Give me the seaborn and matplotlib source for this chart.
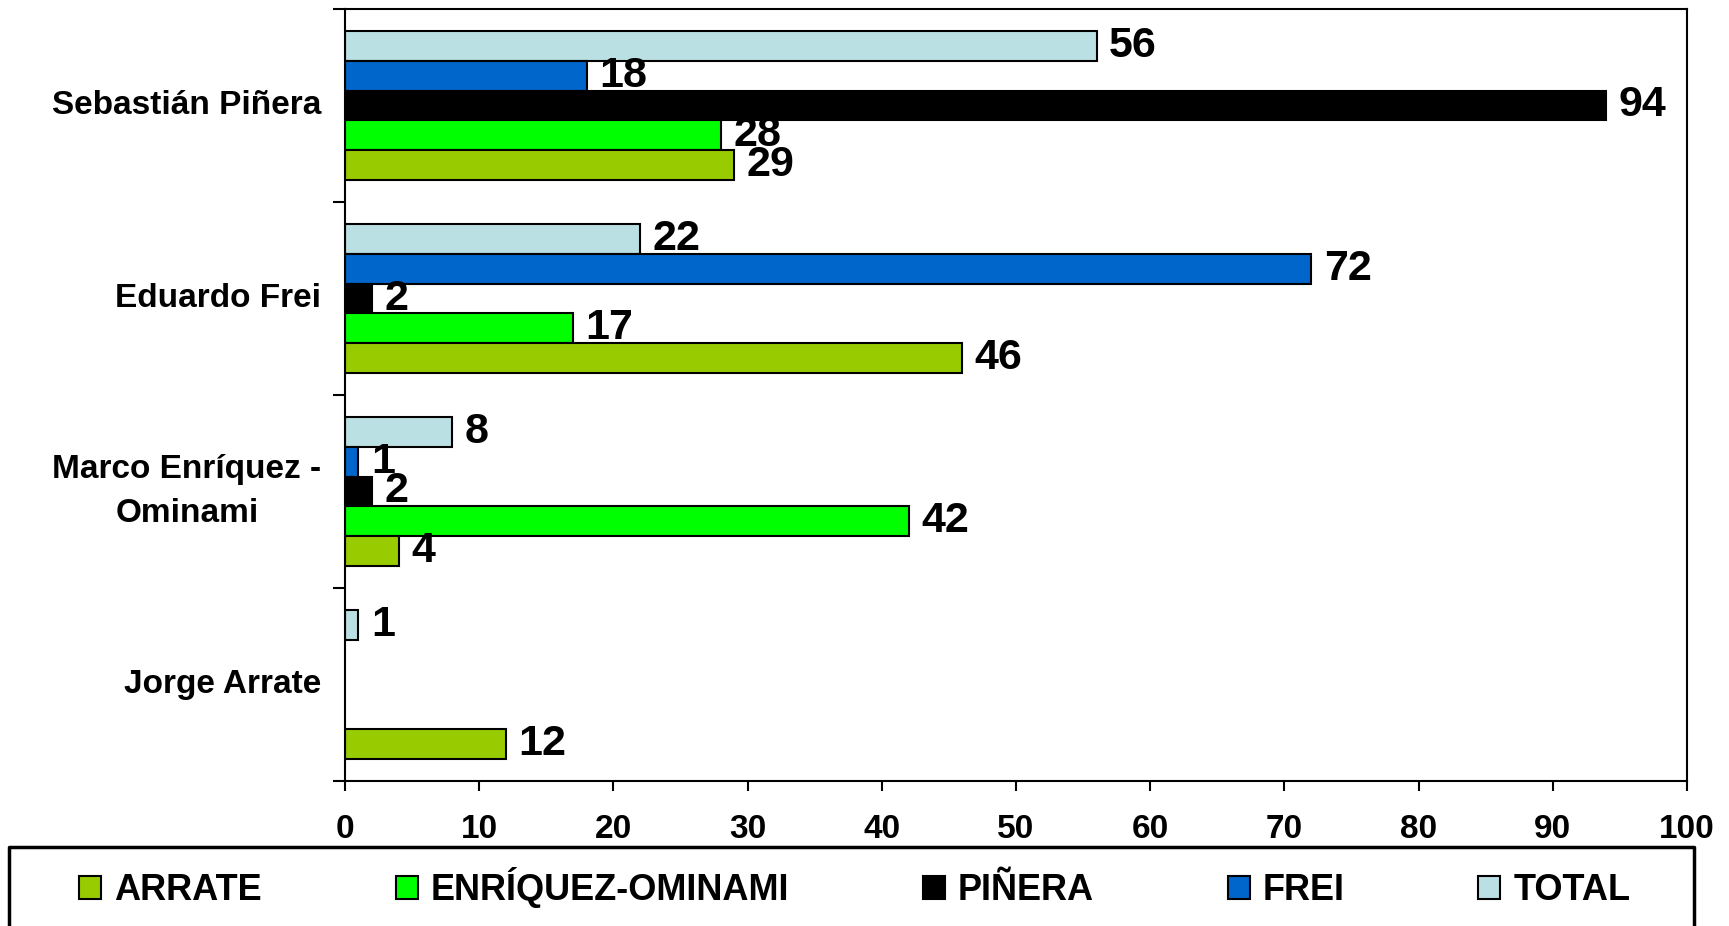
import pandas as pd
import numpy as np
import seaborn as sns
import matplotlib.pyplot as plt
from matplotlib.patches import Patch
from matplotlib.lines import Line2D


# candidates (rows) and the share of each electorate (series)
candidatos = ["Sebastián Piñera", "Eduardo Frei", "Marco Enríquez -\nOminami", "Jorge Arrate"]
total = [56, 22, 8, 1]
frei = [18, 72, 1, np.nan]
pinera = [94, 2, 2, np.nan]
enriquez = [28, 17, 42, np.nan]
arrate = [29, 46, 4, 12]

series = ["TOTAL", "FREI", "PIÑERA", "ENRÍQUEZ-OMINAMI", "ARRATE"]
colores = ["#BBE0E3", "#0066CC", "#000000", "#00FF00", "#99CC00"]
x_ticks = list(range(0, 101, 10))

# long format for seaborn, drop the empty cells
df = pd.DataFrame({"candidato": candidatos, "TOTAL": total, "FREI": frei,
                   "PIÑERA": pinera, "ENRÍQUEZ-OMINAMI": enriquez, "ARRATE": arrate})
df = df.melt(id_vars="candidato", var_name="serie", value_name="valor").dropna()

sns.set_style("white")
plt.rcParams['font.family'] = ['Liberation Sans', 'DejaVu Sans']
plt.rcParams['font.weight'] = 'bold'
plt.rcParams['text.color'] = 'black'
plt.rcParams['xtick.color'] = 'black'
plt.rcParams['ytick.color'] = 'black'

W, H = 1729, 926
fig = plt.figure(figsize=(W / 100, H / 100), dpi=100)
ax = fig.add_axes([345 / W, 1 - 781 / H, (1687 - 345) / W, (781 - 9) / H])

sns.barplot(data=df, y="candidato", x="valor", hue="serie", order=candidatos,
            hue_order=series, palette=colores, saturation=1, orient="h", width=0.77,
            edgecolor="black", linewidth=1.5, errorbar=None, legend=False, ax=ax)

for cont in ax.containers:
    ax.bar_label(cont, fmt="%g", padding=9, fontsize=31, fontweight="bold", color="black")

ax.set_xlim(0, 100)
ax.set_ylim(3.5, -0.5)
ax.set_xticks(x_ticks)
ax.set_xticklabels([str(t) for t in x_ticks], fontsize=24, fontweight="bold")
ax.tick_params(axis="x", direction="out", length=7, width=1.5, pad=17, bottom=True)

# tick marks between the groups, labels at the group centres
ax.set_yticks(np.arange(-0.5, 4.0, 1.0))
ax.set_yticklabels([])
ax.set_yticks(range(len(candidatos)), minor=True)
ax.set_yticklabels(candidatos, minor=True, fontsize=24, fontweight="bold")
for lbl in ax.get_yticklabels(minor=True):
    lbl.set_multialignment("center")
    lbl.set_linespacing(1.55)
    lbl.set_verticalalignment("center")
ax.tick_params(axis="y", which="major", direction="out", length=9, width=1.5, left=True)
ax.tick_params(axis="y", which="minor", length=0, pad=17)

ax.set_xlabel("")
ax.set_ylabel("")
for s in ax.spines.values():
    s.set_visible(True)
    s.set_color("black")
    s.set_linewidth(1.5)

# legend box at the bottom (open at the lower edge of the picture)
x0, x1, ytop = 9 / W, 1694 / W, 1 - 847 / H
fig.add_artist(Line2D([x0, x0, x1, x1], [-0.01, ytop, ytop, -0.01],
                      transform=fig.transFigure, color="black", linewidth=2.5))
handles = [Patch(facecolor=c, edgecolor="black", linewidth=1.5)
           for c in colores[::-1]]
fig.legend(handles, series[::-1], loc="center", bbox_to_anchor=(0.4944, 1 - 888 / H),
           ncol=5, frameon=False, handlelength=0.61, handleheight=0.61,
           handletextpad=0.36, columnspacing=3.7, prop={"weight": "bold", "size": 26})

fig.savefig("out.png", dpi=100)
